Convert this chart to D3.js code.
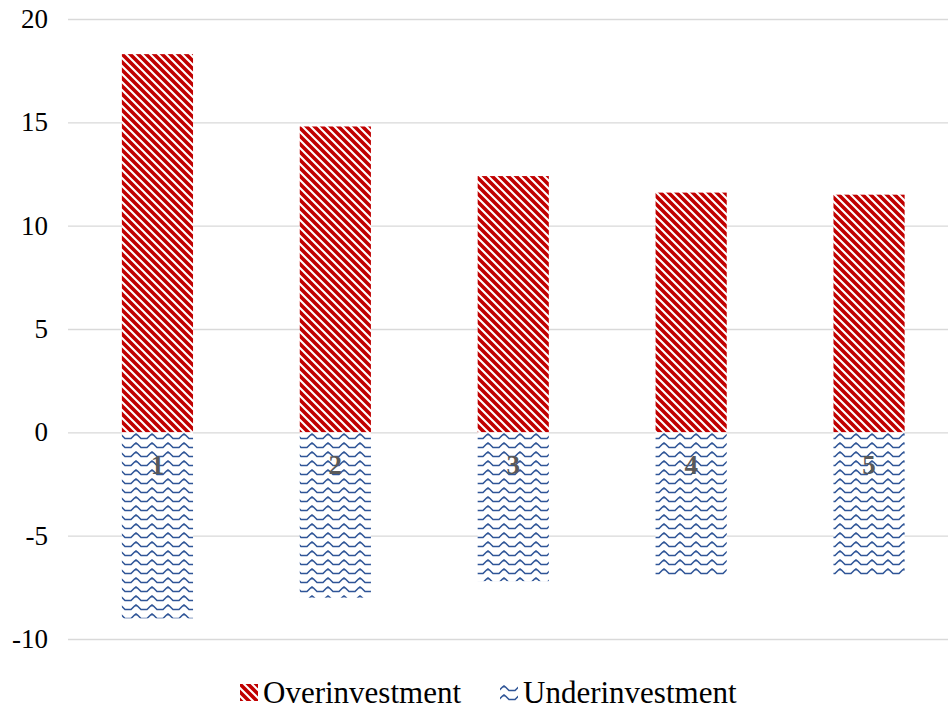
<!DOCTYPE html>
<html lang="en">
<head>
    <meta charset="UTF-8">
    <title>Over / Underinvestment</title>
    <script src="https://d3js.org/d3.v7.min.js"></script>
    <style>
        body { margin: 0; background: #fff; }
        svg text { font-family: "Times New Roman", "Liberation Serif", Times, serif; }
    </style>
</head>
<body>
    <svg></svg>
    <script>
        // chart values
        const categories = ["1", "2", "3", "4", "5"];
        const overValues = [18.3, 14.8, 12.4, 11.6, 11.5];
        const underValues = [-9.0, -8.0, -7.2, -7.0, -6.95];
        const yTicks = [-10, -5, 0, 5, 10, 15, 20];
        const seriesNames = ["Overinvestment", "Underinvestment"];

        const width = 950, height = 710;
        const plotLeft = 68, plotRight = 948;
        const svg = d3.select("svg").attr("width", width).attr("height", height);

        const x = d3.scaleBand().domain(categories)
            .range([68.5, 958])
            .paddingInner(0.6).paddingOuter(0.3);
        const y = d3.scaleLinear().domain([-10, 20]).range([639, 19]);

        // fill patterns
        const defs = svg.append("defs");
        const red = defs.append("pattern").attr("id", "pRed")
            .attr("patternUnits", "userSpaceOnUse").attr("width", 8).attr("height", 8);
        red.append("rect").attr("width", 8).attr("height", 8).attr("fill", "#fff");
        red.append("path")
            .attr("d", "M-2,2 L6,10 M2,-2 L10,6 M-6,6 L2,14 M6,-6 L14,2")
            .attr("stroke", "#c00000").attr("stroke-width", 3.6);

        const blue = defs.append("pattern").attr("id", "pBlue")
            .attr("patternUnits", "userSpaceOnUse").attr("width", 16).attr("height", 9);
        blue.append("rect").attr("width", 16).attr("height", 9).attr("fill", "#fff");
        blue.append("path")
            .attr("d", "M0,6.5 L3,6.5 L6.5,3 L8,2 L9.5,3 L13,6.5 L16,6.5")
            .attr("fill", "none").attr("stroke", "#2f5597").attr("stroke-width", 1.6);

        // gridlines + y labels
        const yAxis = svg.append("g")
            .attr("transform", `translate(${plotLeft},0)`)
            .call(d3.axisLeft(y).tickValues(yTicks)
                .tickFormat(d => String(d))
                .tickSize(-(plotRight - plotLeft)).tickPadding(20));
        yAxis.select(".domain").remove();
        yAxis.attr("font-family", null);
        yAxis.selectAll(".tick line").attr("stroke", "#d9d9d9").attr("stroke-width", 1.3);
        yAxis.selectAll(".tick text")
            .attr("font-size", 27).attr("fill", "#000");

        // bars
        svg.append("g").selectAll("rect")
            .data(categories)
            .join("rect")
            .attr("x", d => x(d))
            .attr("width", x.bandwidth())
            .attr("y", (d, i) => y(overValues[i]))
            .attr("height", (d, i) => y(0) - y(overValues[i]))
            .attr("fill", "url(#pRed)");

        svg.append("g").selectAll("rect")
            .data(categories)
            .join("rect")
            .attr("x", d => x(d))
            .attr("width", x.bandwidth())
            .attr("y", y(0))
            .attr("height", (d, i) => y(underValues[i]) - y(0))
            .attr("fill", "url(#pBlue)");

        // category labels just below zero
        svg.append("g").selectAll("text")
            .data(categories)
            .join("text")
            .attr("x", d => x(d) + x.bandwidth() / 2)
            .attr("y", y(0) + 42)
            .attr("text-anchor", "middle")
            .attr("font-size", 27).attr("font-weight", "bold")
            .attr("fill", "#595959")
            .text(d => d);

        // legend
        const legend = svg.append("g");
        const legendItems = [
            { name: seriesNames[0], fill: "url(#pRed)", x: 240 },
            { name: seriesNames[1], fill: "url(#pBlue)", x: 500 }
        ];
        legendItems.forEach(it => {
            legend.append("rect").attr("x", it.x).attr("y", 684)
                .attr("width", 18).attr("height", 17).attr("fill", it.fill);
            legend.append("text").attr("x", it.x + 23).attr("y", 703)
                .attr("font-size", 31).attr("fill", "#000").text(it.name);
        });
    </script>
</body>
</html>
